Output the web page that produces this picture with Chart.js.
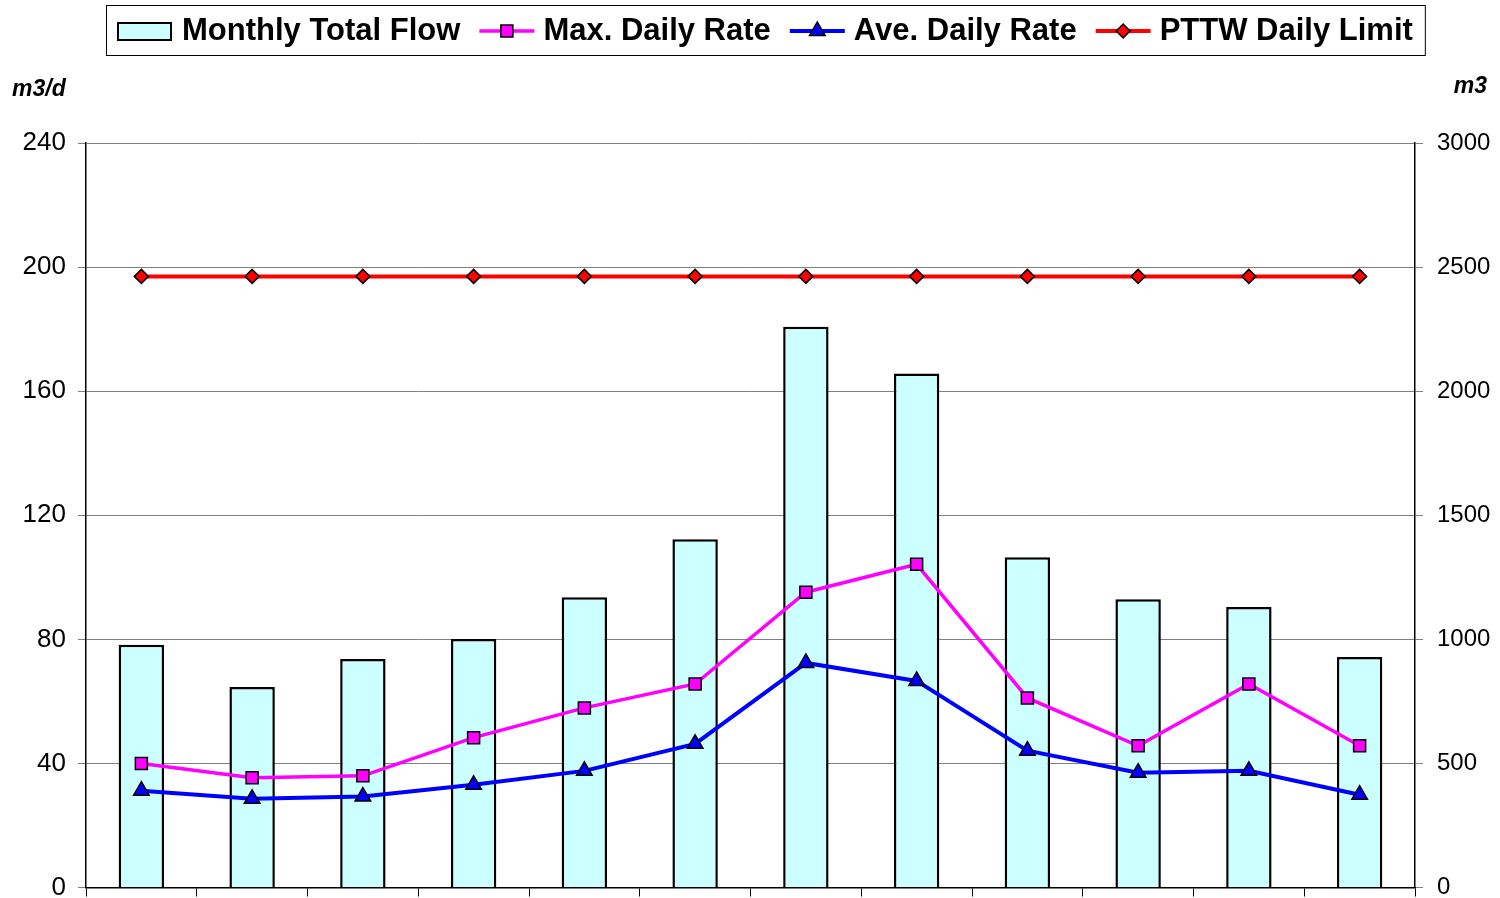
<!DOCTYPE html>
<html>
<head>
<meta charset="utf-8">
<title>Monthly Flow</title>
<script src="https://cdn.jsdelivr.net/npm/chart.js@4/dist/chart.umd.min.js"></script>
<style>
  html, body { margin: 0; padding: 0; background: #fff; overflow: hidden; }
  #wrap { width: 1500px; height: 898px; }
</style>
</head>
<body>
<div id="wrap"><canvas id="flow-chart" width="1500" height="898"></canvas></div>
<script>
// values
const months = ['Jan', 'Feb', 'Mar', 'Apr', 'May', 'Jun', 'Jul', 'Aug', 'Sep', 'Oct', 'Nov', 'Dec'];
const monthlyTotalFlow = [978, 808, 921, 1001, 1170, 1403, 2260, 2071, 1331, 1162, 1130, 929];
const maxDailyRate = [40.0, 35.4, 36.0, 48.3, 57.9, 65.6, 95.2, 104.2, 61.1, 45.7, 65.6, 45.7];
const aveDailyRate = [31.2, 28.6, 29.3, 33.1, 37.6, 46.3, 72.4, 66.6, 44.1, 37.0, 37.6, 29.9];
const pttwDailyLimit = [197, 197, 197, 197, 197, 197, 197, 197, 197, 197, 197, 197];
const rateTicks = [0, 40, 80, 120, 160, 200, 240];
const volumeTicks = [0, 500, 1000, 1500, 2000, 2500, 3000];

const FONT = '"Liberation Sans", Arial, sans-serif';

// legend in a box, line + marker samples like the spreadsheet one
const boxedLegend = {
  id: 'boxedLegend',
  afterDraw(chart) {
    const ctx = chart.ctx;
    const iconW = 55, iconGap = 9, itemGap = 19, padX = 12;
    const boxTop = 5, boxH = 50, centerX = 765;
    const midY = boxTop + boxH / 2 + 1;

    ctx.save();
    ctx.font = 'bold 31px ' + FONT;
    const items = chart.data.datasets.map(ds => ({ ds, w: ctx.measureText(ds.label).width }));
    const total = padX * 2 + items.reduce((s, it) => s + iconW + iconGap + it.w, 0) + itemGap * (items.length - 1);
    const left = Math.round(centerX - total / 2);

    ctx.fillStyle = '#fff';
    ctx.fillRect(left, boxTop, total, boxH);
    ctx.strokeStyle = '#000';
    ctx.lineWidth = 1;
    ctx.strokeRect(left + 0.5, boxTop + 0.5, total, boxH);

    let x = left + padX;
    items.forEach(({ ds, w }) => {
      if (ds.type === 'bar') {
        ctx.fillStyle = ds.backgroundColor;
        ctx.fillRect(x, midY - 8, iconW - 2, 17);
        ctx.strokeStyle = '#000';
        ctx.lineWidth = 2;
        ctx.strokeRect(x, midY - 8, iconW - 2, 17);
      } else {
        ctx.strokeStyle = ds.borderColor;
        ctx.lineWidth = ds.borderWidth;
        ctx.beginPath();
        ctx.moveTo(x, midY);
        ctx.lineTo(x + iconW, midY);
        ctx.stroke();
        ctx.fillStyle = ds.pointBackgroundColor;
        ctx.strokeStyle = ds.pointBorderColor;
        ctx.lineWidth = ds.pointBorderWidth;
        Chart.helpers.drawPoint(ctx, {
          pointStyle: ds.pointStyle, radius: ds.pointRadius, rotation: 0, borderWidth: ds.pointBorderWidth
        }, x + iconW / 2, midY);
      }
      x += iconW + iconGap;
      ctx.fillStyle = '#000';
      ctx.textBaseline = 'middle';
      ctx.textAlign = 'left';
      ctx.fillText(ds.label, x, midY);
      x += w + itemGap;
    });

    // unit labels over the two value axes
    ctx.font = 'italic bold 23px ' + FONT;
    ctx.textAlign = 'left';
    ctx.fillText('m3/d', 12, 90);
    ctx.textAlign = 'right';
    ctx.fillText('m3', 1487, 87);
    ctx.restore();
  }
};

// keep the plot box fixed: no extra room for half-height tick labels
function noPad(scale) {
  scale.paddingTop = 0;
  scale.paddingBottom = 0;
  scale.paddingLeft = 0;
  scale.paddingRight = 0;
}

const ctx = document.getElementById('flow-chart').getContext('2d');

new Chart(ctx, {
  type: 'bar',
  data: {
    labels: months,
    datasets: [
      {
        type: 'bar',
        label: 'Monthly Total Flow',
        data: monthlyTotalFlow,
        yAxisID: 'yVolume',
        backgroundColor: '#CCFFFF',
        borderColor: '#000',
        borderWidth: 2.5,
        barPercentage: 0.41,
        categoryPercentage: 1.0,
        order: 4
      },
      {
        type: 'line',
        label: 'Max. Daily Rate',
        data: maxDailyRate,
        yAxisID: 'yRate',
        borderColor: '#FF00FF',
        borderWidth: 3.5,
        pointStyle: 'rect',
        pointRadius: 8.5,
        pointBackgroundColor: '#FF00FF',
        pointBorderColor: '#000',
        pointBorderWidth: 1.5,
        tension: 0,
        order: 2
      },
      {
        type: 'line',
        label: 'Ave. Daily Rate',
        data: aveDailyRate,
        yAxisID: 'yRate',
        borderColor: '#0000FF',
        borderWidth: 4,
        pointStyle: 'triangle',
        pointRadius: 9,
        pointBackgroundColor: '#0000FF',
        pointBorderColor: '#000',
        pointBorderWidth: 1.5,
        tension: 0,
        order: 1
      },
      {
        type: 'line',
        label: 'PTTW Daily Limit',
        data: pttwDailyLimit,
        yAxisID: 'yRate',
        borderColor: '#FF0000',
        borderWidth: 4,
        pointStyle: 'rectRot',
        pointRadius: 7,
        pointBackgroundColor: '#FF0000',
        pointBorderColor: '#000',
        pointBorderWidth: 1.5,
        tension: 0,
        order: 3
      }
    ]
  },
  options: {
    responsive: false,
    animation: false,
    layout: { padding: { top: 143, left: 0, right: 0, bottom: 0 } },
    plugins: {
      legend: { display: false },
      tooltip: { enabled: false }
    },
    scales: {
      x: {
        offset: true,
        grid: { offset: true, drawOnChartArea: false, tickLength: 9, color: '#000', lineWidth: 1 },
        border: { color: '#000', width: 1.5 },
        ticks: { display: false },
        afterFit(scale) { scale.height = 9; noPad(scale); }
      },
      yRate: {
        position: 'left',
        min: rateTicks[0],
        max: rateTicks[rateTicks.length - 1],
        afterBuildTicks(scale) { scale.ticks = rateTicks.map(v => ({ value: v })); },
        grid: { color: '#808080', lineWidth: 1, tickLength: 8 },
        border: { color: '#000', width: 1.5 },
        ticks: { color: '#000', padding: 12, font: { family: FONT, size: 26 }, callback: v => String(v) },
        afterFit(scale) { scale.width = 86; noPad(scale); }
      },
      yVolume: {
        position: 'right',
        min: volumeTicks[0],
        max: volumeTicks[volumeTicks.length - 1],
        afterBuildTicks(scale) { scale.ticks = volumeTicks.map(v => ({ value: v })); },
        grid: { drawOnChartArea: false, color: '#808080', lineWidth: 1, tickLength: 8 },
        border: { color: '#000', width: 1.5 },
        ticks: { color: '#000', padding: 14, font: { family: FONT, size: 24 }, callback: v => String(v) },
        afterFit(scale) { scale.width = 85; noPad(scale); }
      }
    }
  },
  plugins: [boxedLegend]
});
</script>
</body>
</html>
